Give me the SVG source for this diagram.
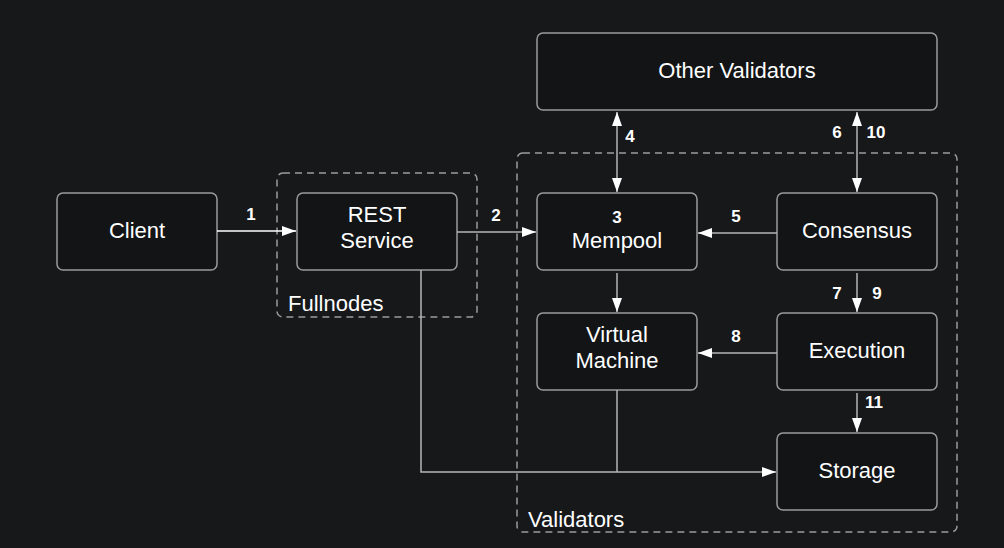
<svg xmlns="http://www.w3.org/2000/svg" width="1004" height="548" viewBox="0 0 1004 548">
<style>
.box{fill:#121416;stroke:#9a9a9a;stroke-width:1.5}
.grp{fill:none;stroke:#9a9a9a;stroke-width:1.5;stroke-dasharray:7 5}
.t{font-family:"Liberation Sans",Arial,sans-serif;font-size:22px;fill:#ffffff;text-anchor:middle}
.g{font-family:"Liberation Sans",Arial,sans-serif;font-size:22px;fill:#ffffff}
.n{font-family:"Liberation Sans",Arial,sans-serif;font-size:17px;font-weight:bold;fill:#ffffff;text-anchor:middle}
.c{fill:none;stroke:#b5b5b5;stroke-width:1.5}
</style>
<defs>
<marker id="ah" viewBox="0 0 14 10" refX="14" refY="5" markerWidth="14" markerHeight="10" markerUnits="userSpaceOnUse" orient="auto-start-reverse">
<path d="M0,0 L14,5 L0,10 Z" fill="#ffffff"/>
</marker>
</defs>
<rect width="1004" height="548" fill="#16181a"/>
<g id="group-fullnodes">
<rect class="grp" x="277" y="173" width="200" height="144" rx="6"/>
<text class="g" x="288" y="311">Fullnodes</text>
</g>
<g id="group-validators">
<rect class="grp" x="517" y="153" width="440" height="379" rx="6"/>
<text class="g" x="528" y="527">Validators</text>
</g>
<g id="node-client">
<rect class="box" x="57" y="193" width="160" height="77" rx="6"/>
<text class="t" x="137" y="238">Client</text>
</g>
<g id="node-rest">
<rect class="box" x="297" y="193" width="160" height="77" rx="6"/>
<text class="t" x="377" y="222">REST</text>
<text class="t" x="377" y="248">Service</text>
</g>
<g id="node-other">
<rect class="box" x="537" y="33" width="400" height="77" rx="6"/>
<text class="t" x="737" y="78">Other Validators</text>
</g>
<g id="node-mempool">
<rect class="box" x="537" y="193" width="160" height="77" rx="6"/>
<text class="n" x="617" y="223">3</text>
<text class="t" x="617" y="248">Mempool</text>
</g>
<g id="node-consensus">
<rect class="box" x="777" y="193" width="160" height="77" rx="6"/>
<text class="t" x="857" y="238">Consensus</text>
</g>
<g id="node-vm">
<rect class="box" x="537" y="313" width="160" height="77" rx="6"/>
<text class="t" x="617" y="342">Virtual</text>
<text class="t" x="617" y="368">Machine</text>
</g>
<g id="node-execution">
<rect class="box" x="777" y="313" width="160" height="77" rx="6"/>
<text class="t" x="857" y="358">Execution</text>
</g>
<g id="node-storage">
<rect class="box" x="777" y="433" width="160" height="77" rx="6"/>
<text class="t" x="857" y="478">Storage</text>
</g>
<g id="connectors">
<path class="c" d="M217,231 H296" style="stroke:#ffffff" marker-end="url(#ah)"/>
<path class="c" d="M457,232 H536" marker-end="url(#ah)"/>
<path class="c" d="M617,112 V192" marker-start="url(#ah)" marker-end="url(#ah)"/>
<path class="c" d="M857,112 V192" marker-start="url(#ah)" marker-end="url(#ah)"/>
<path class="c" d="M777,233 H698" marker-end="url(#ah)"/>
<path class="c" d="M617,273 V312" marker-end="url(#ah)"/>
<path class="c" d="M857,273 V312" marker-end="url(#ah)"/>
<path class="c" d="M777,353 H698" marker-end="url(#ah)"/>
<path class="c" d="M857,393 V432" marker-end="url(#ah)"/>
<path class="c" d="M421,270 V472 H776" marker-end="url(#ah)"/>
<path class="c" d="M617,390 V472"/>
<text class="n" x="251" y="220">1</text>
<text class="n" x="496" y="221">2</text>
<text class="n" x="630" y="142">4</text>
<text class="n" x="837" y="138">6</text>
<text class="n" x="876" y="138">10</text>
<text class="n" x="736" y="222">5</text>
<text class="n" x="837" y="299">7</text>
<text class="n" x="877" y="299">9</text>
<text class="n" x="736" y="342">8</text>
<text class="n" x="874" y="408">11</text>
</g>
</svg>
